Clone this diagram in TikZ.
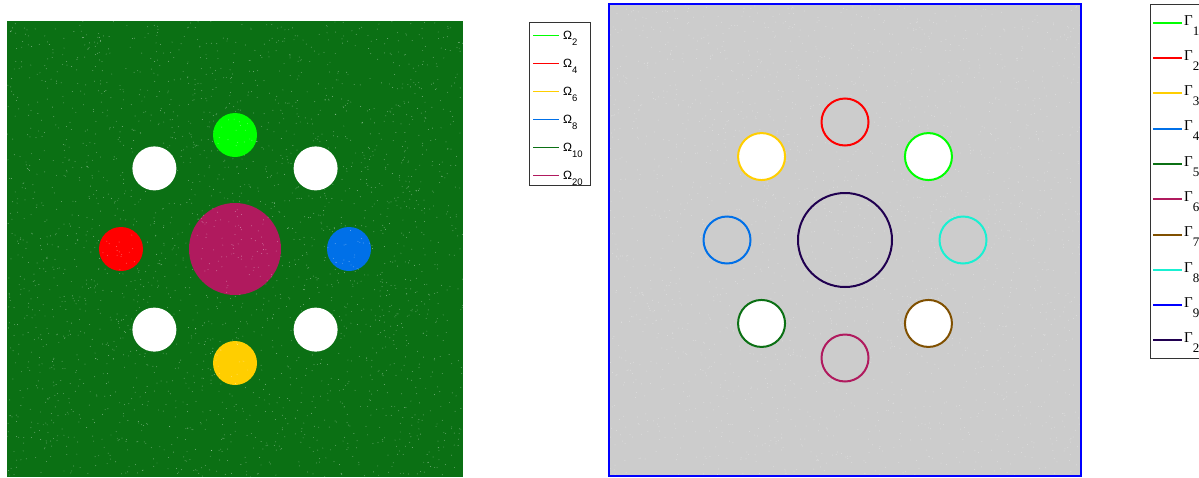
\documentclass[tikz,border=0pt]{standalone}
\usepackage{fontspec}
\setmainfont{Liberation Serif}
\newfontfamily\legsans{Liberation Sans}
\usetikzlibrary{positioning,calc}
\definecolor{litegreen}{RGB}{0,255,0}
\definecolor{redreg}{RGB}{255,0,0}
\definecolor{yellowreg}{RGB}{255,206,0}
\definecolor{bluereg}{RGB}{0,112,232}
\definecolor{darkgreen}{RGB}{11,112,20}
\definecolor{magentareg}{RGB}{176,26,94}
\definecolor{brownreg}{RGB}{128,80,0}
\definecolor{cyanreg}{RGB}{25,240,210}
\definecolor{outerblue}{RGB}{0,0,255}
\definecolor{purplereg}{RGB}{32,0,80}
\definecolor{panelgray}{RGB}{204,204,204}

\begin{document}
\begin{tikzpicture}[x=1pt, y=-1pt,
    disk/.style={circle, inner sep=0pt, minimum size=44pt},
    bigdisk/.style={circle, inner sep=0pt, minimum size=92pt},
    ring/.style={circle, draw, line width=2pt, inner sep=0pt, minimum size=47pt},
    bigring/.style={circle, draw, line width=2pt, inner sep=0pt, minimum size=94pt},
    legbox/.style={draw=black!80, line width=0.6pt, fill=white, inner sep=0pt, anchor=north west},
    omlab/.style={anchor=base west, inner sep=0pt, font=\legsans\fontsize{12}{12}\selectfont},
    gamlab/.style={anchor=base west, inner sep=0pt, font=\fontsize{15}{15}\selectfont}
]
    \useasboundingbox (0,0) rectangle (1199,477);

    % Linkes Feld: Teilgebiete
    \fill[darkgreen] (7,21) rectangle (463,477);
    \coordinate (cL) at (235,249);
    \node[bigdisk, fill=magentareg] (om20) at (cL) {};
    \foreach \a/\col/\nm in {90/litegreen/om2, 180/redreg/om4, 270/yellowreg/om6, 0/bluereg/om8,
                             45/white/hA, 135/white/hB, 225/white/hC, 315/white/hD}
        \node[disk, fill=\col] (\nm) at ($(cL)+({114*cos(\a)},{-114*sin(\a)})$) {};
    \pgfmathsetseed{11}
    \foreach \k in {1,...,2600}
        \fill[white, opacity=.45] ({7+456*rnd},{21+456*rnd}) circle (0.45pt);

    % Legende links
    \node[legbox, minimum width=61pt, minimum height=163.5pt] (legL) at (529,21.5) {};
    \foreach \col/\lab [count=\i] in {litegreen/2, redreg/4, yellowreg/6, bluereg/8, darkgreen/10, magentareg/20} {
        \draw[color=\col, line width=1.3pt] (533,{7.5+28*\i}) -- (559,{7.5+28*\i});
        \node[omlab] at (563,{11+28*\i}) {Ω\raisebox{-6pt}{\fontsize{9.5}{10}\selectfont\lab}};
    }

    % Rechtes Feld: Ränder
    \fill[panelgray] (609,4) rectangle (1081,476);
    \pgfmathsetseed{5}
    \foreach \k in {1,...,2200}
        \fill[white, opacity=.35] ({609+472*rnd},{4+472*rnd}) circle (0.5pt);
    \coordinate (cR) at (845,240);
    \node[bigring, draw=purplereg] (gam20) at (cR) {};
    \foreach \a/\col/\fil/\nm in {45/litegreen/white/gam1, 90/redreg/panelgray/gam2, 135/yellowreg/white/gam3,
                                  180/bluereg/panelgray/gam4, 225/darkgreen/white/gam5, 270/magentareg/panelgray/gam6,
                                  315/brownreg/white/gam7, 0/cyanreg/panelgray/gam8}
        \node[ring, draw=\col, fill=\fil] (\nm) at ($(cR)+({118*cos(\a)},{-118*sin(\a)})$) {};
    \draw[outerblue, line width=2pt] (609,4) rectangle (1081,476);

    % Legende rechts
    \node[legbox, minimum width=70pt, minimum height=354pt] (legR) at (1150,4.3) {};
    \foreach \col/\lab [count=\i] in {litegreen/1, redreg/2, yellowreg/3, bluereg/4, darkgreen/5, magentareg/6,
                                      brownreg/7, cyanreg/8, outerblue/9, purplereg/20} {
        \draw[color=\col, line width=2pt] (1153,{-12.6+35.3*\i}) -- (1182,{-12.6+35.3*\i});
        \node[gamlab] at (1184,{-10.3+35.3*\i}) {Γ\raisebox{-10pt}{\fontsize{13}{13}\selectfont\lab}};
    }
\end{tikzpicture}
\end{document}
